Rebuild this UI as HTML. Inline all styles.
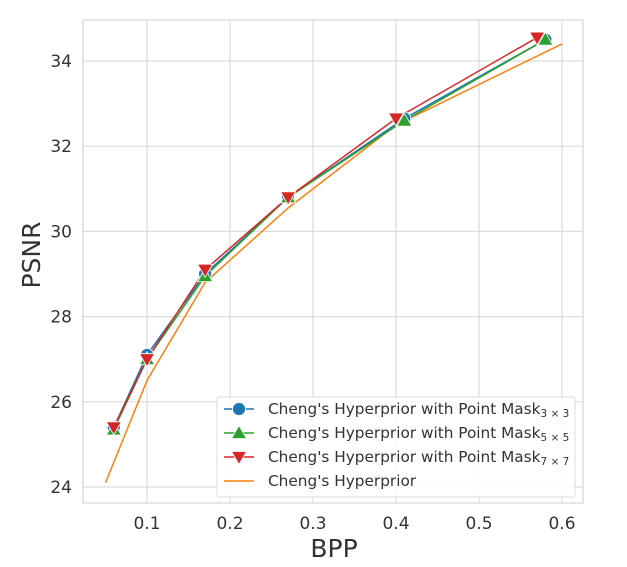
<!DOCTYPE html>
<html><head><meta charset="utf-8"><style>
body{margin:0;background:#fff;}
svg{display:block;font-family:"DejaVu Sans","Liberation Sans",sans-serif;}
</style></head><body>
<svg id="s" width="627" height="567" xmlns="http://www.w3.org/2000/svg"></svg>
<script>
const s=document.getElementById('s');
const X=x=>147+(x-0.1)*830, Y=y=>61+(34-y)*42.6;
let h='';
const L=83,R=583,T=20,B=503;
h+=`<rect x="${L}" y="${T}" width="${R-L}" height="${B-T}" fill="#fff" stroke="#d6d6d6" stroke-width="1.2"/>`;
[0.1,0.2,0.3,0.4,0.5,0.6].forEach(v=>{const x=X(v);h+=`<line x1="${x}" y1="${T}" x2="${x}" y2="${B}" stroke="#dcdcdc" stroke-width="1.2"/><text x="${x}" y="529" font-size="17" fill="#333" text-anchor="middle">${v}</text>`;});
[24,26,28,30,32,34].forEach(v=>{const y=Y(v);h+=`<line x1="${L}" y1="${y}" x2="${R}" y2="${y}" stroke="#dcdcdc" stroke-width="1.2"/><text x="72" y="${y+6}" font-size="17" fill="#333" text-anchor="end">${v}</text>`;});
h+=`<text x="334" y="557" font-size="25" fill="#333" text-anchor="middle">BPP</text>`;
h+=`<text transform="translate(40,255) rotate(-90)" font-size="25" fill="#333" text-anchor="middle">PSNR</text>`;
const ser=[
{c:'#ff7f0e',m:null,d:[[0.05,24.1],[0.1,26.5],[0.17,28.8],[0.27,30.55],[0.40,32.5],[0.6,34.4]]},
{c:'#1f77b4',m:'o',d:[[0.06,25.4],[0.1,27.1],[0.17,29.0],[0.27,30.8],[0.41,32.65],[0.58,34.5]]},
{c:'#2ca02c',m:'^',d:[[0.06,25.35],[0.1,27.0],[0.17,28.95],[0.27,30.8],[0.41,32.6],[0.58,34.5]]},
{c:'#d62728',m:'v',d:[[0.06,25.4],[0.1,27.0],[0.17,29.1],[0.27,30.8],[0.40,32.65],[0.57,34.55]]}];
function mk(m,x,y,c){
 if(m=='o')return `<circle cx="${x}" cy="${y}" r="6.5" fill="${c}" stroke="#fff" stroke-width="0.8"/>`;
 if(m=='^')return `<polygon points="${x},${y-7.5} ${x-7.5},${y+5.5} ${x+7.5},${y+5.5}" fill="${c}" stroke="#fff" stroke-width="0.8"/>`;
 if(m=='v')return `<polygon points="${x},${y+7.5} ${x-7.5},${y-5.5} ${x+7.5},${y-5.5}" fill="${c}" stroke="#fff" stroke-width="0.8"/>`;
 return '';}
ser.forEach(o=>{h+=`<polyline fill="none" stroke="${o.c}" stroke-width="1.5" points="${o.d.map(p=>X(p[0])+','+Y(p[1])).join(' ')}"/>`;});
ser.forEach(o=>{if(o.m)o.d.forEach(p=>h+=mk(o.m,X(p[0]),Y(p[1]),o.c));});
h+=`<rect x="217" y="397" width="358" height="100" rx="3" fill="#fff" fill-opacity="0.85" stroke="#ddd"/>`;
const leg=[['#1f77b4','o','3 × 3'],['#2ca02c','^','5 × 5'],['#d62728','v','7 × 7'],['#ff7f0e',null,'']];
leg.forEach((e,i)=>{const y=409+i*24;
 h+=`<line x1="224" y1="${y}" x2="254" y2="${y}" stroke="${e[0]}" stroke-width="1.5"/>`+mk(e[1],239,y,e[0]);
 h+= e[2]?`<text x="268" y="${y+5}" font-size="15.3" fill="#333">Cheng's Hyperprior with Point Mask<tspan font-size="10.5" dy="3">${e[2]}</tspan></text>`
        :`<text x="268" y="${y+5}" font-size="15.3" fill="#333">Cheng's Hyperprior</text>`;});
s.innerHTML=h;
</script>
</body></html>
